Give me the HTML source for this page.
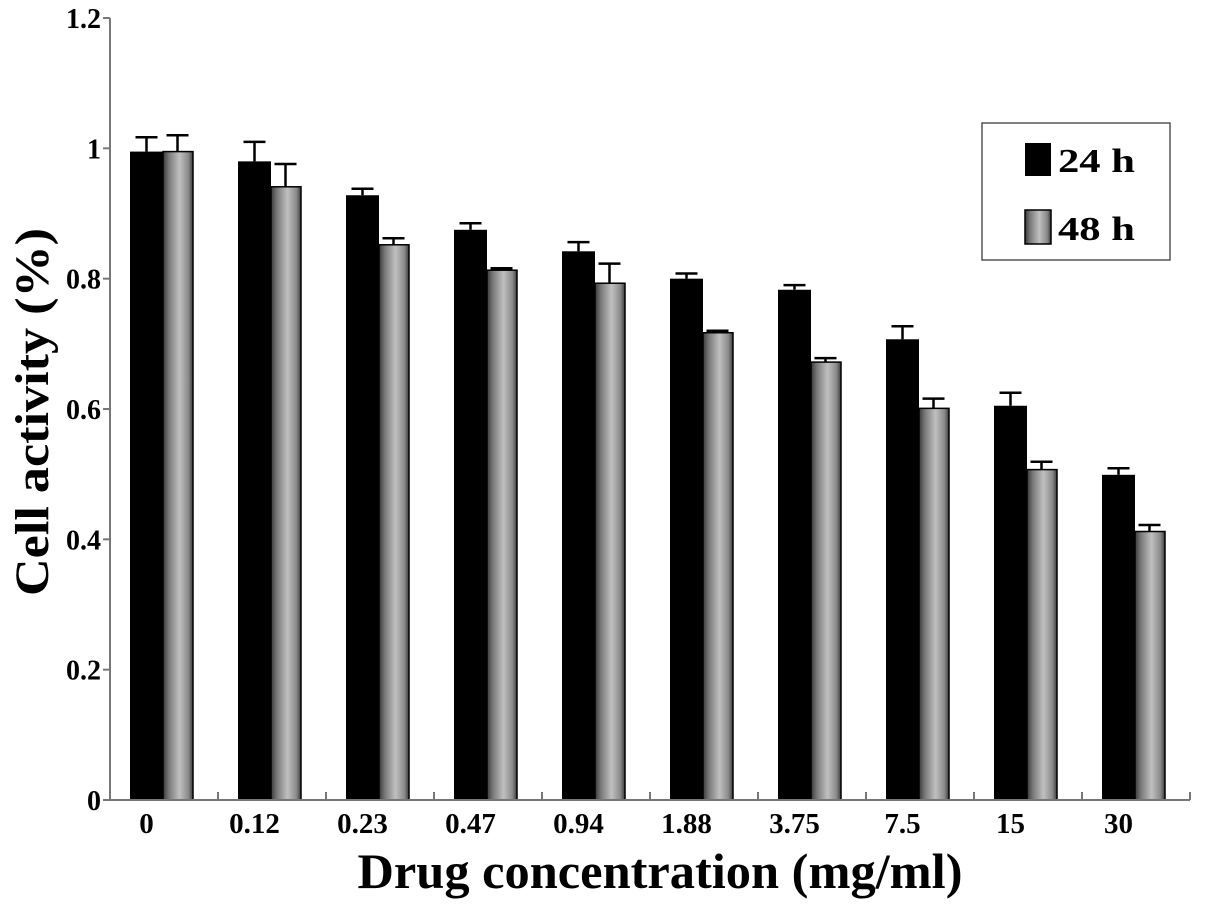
<!DOCTYPE html>
<html><head><meta charset="utf-8"><style>
html,body{margin:0;padding:0;background:#fff;}
svg{display:block;font-family:"Liberation Serif",serif;font-weight:bold;}
</style></head><body>
<svg id="chart" width="1205" height="914" viewBox="0 0 1205 914">
<defs>
<linearGradient id="gg" x1="0" x2="1" y1="0" y2="0">
<stop offset="0" stop-color="#3a3a3a"/><stop offset="0.2" stop-color="#7a7a7a"/><stop offset="0.55" stop-color="#c0c0c0"/><stop offset="0.85" stop-color="#8a8a8a"/><stop offset="1" stop-color="#3a3a3a"/>
</linearGradient>
</defs>
<g id="bars"></g>
<g id="axes"></g>
<text x="48" y="412" font-size="48" text-anchor="middle" textLength="368" lengthAdjust="spacingAndGlyphs" transform="rotate(-90 48 412)">Cell activity (%)</text>
<text x="660" y="888" font-size="50" text-anchor="middle" textLength="605" lengthAdjust="spacingAndGlyphs">Drug concentration (mg/ml)</text>
<g>
<rect x="982" y="123" width="188" height="137" fill="#fff" stroke="#555" stroke-width="1.5"/>
<rect x="1025" y="143" width="26" height="33" fill="#000"/>
<text x="1058" y="172" font-size="34" textLength="77" lengthAdjust="spacingAndGlyphs">24 h</text>
<rect x="1025" y="210" width="26" height="34" fill="url(#gg)" stroke="#000" stroke-width="1.5"/>
<text x="1058" y="240" font-size="34" textLength="77" lengthAdjust="spacingAndGlyphs">48 h</text>
</g>
</svg>
<script>
const categories=["0","0.12","0.23","0.47","0.94","1.88","3.75","7.5","15","30"];
const values24=[0.995,0.98,0.928,0.875,0.842,0.800,0.783,0.707,0.605,0.499];
const err24=[0.022,0.03,0.01,0.01,0.014,0.008,0.007,0.02,0.02,0.01];
const values48=[0.995,0.941,0.852,0.813,0.793,0.717,0.672,0.601,0.507,0.412];
const err48=[0.025,0.035,0.01,0.003,0.03,0.003,0.006,0.015,0.012,0.01];
const yTicks=[0,0.2,0.4,0.6,0.8,1,1.2];
const yTickLabels=["0","0.2","0.4","0.6","0.8","1","1.2"];
const NS="http://www.w3.org/2000/svg";
const x0=110,groupW=108,barW=33,y0=800,yMax=1.2,yTop=18;
function yScale(v){return y0-(v/yMax)*(y0-yTop);}
function gx(i){return x0+i*groupW+20;}
function mk(tag,attrs,parent){const e=document.createElementNS(NS,tag);for(const k in attrs)e.setAttribute(k,attrs[k]);parent.appendChild(e);return e;}
const bars=document.getElementById('bars'),axes=document.getElementById('axes');
function errBar(cx,v,e,name){
  const g=mk('g',{stroke:'#000','stroke-width':2.5,fill:'none'},bars);
  
  
  mk('line',{x1:cx,x2:cx,y1:yScale(v),y2:yScale(v+e)},g);
  mk('line',{x1:cx-11,x2:cx+11,y1:yScale(v+e),y2:yScale(v+e)},g);
}
categories.forEach((c,i)=>{
  const bx=gx(i);
  errBar(bx+barW/2,values24[i],err24[i],'error-bar-24h-'+c);
  errBar(bx+barW+barW/2-2,values48[i],err48[i],'error-bar-48h-'+c);
  const r1=mk('rect',{x:bx,y:yScale(values24[i]),width:barW,height:y0-yScale(values24[i]),fill:'#000'},bars);
  
  
  const r2=mk('rect',{x:bx+barW,y:yScale(values48[i]),width:barW-3,height:y0-yScale(values48[i]),fill:'url(#gg)',stroke:'#000','stroke-width':1.5},bars);
  
  
  const t=mk('text',{x:bx+barW/2,y:833,'font-size':29,'text-anchor':'middle'},axes);
  t.textContent=c;
  
  
});
mk('line',{x1:x0,x2:x0,y1:yTop,y2:y0,stroke:'#777','stroke-width':2},axes);
mk('line',{x1:x0,x2:x0+categories.length*groupW,y1:y0,y2:y0,stroke:'#777','stroke-width':2},axes);
for(let i=1;i<=categories.length;i++){
  mk('line',{x1:x0+i*groupW,x2:x0+i*groupW,y1:y0,y2:y0-8,stroke:'#777','stroke-width':2},axes);
}
yTicks.forEach((v,i)=>{
  const y=yScale(v);
  mk('line',{x1:x0-7,x2:x0,y1:y,y2:y,stroke:'#777','stroke-width':2},axes);
  const t=mk('text',{x:101,y:y+10,'font-size':28,'text-anchor':'end'},axes);
  t.textContent=yTickLabels[i];
  
  
});
</script>
</body></html>
